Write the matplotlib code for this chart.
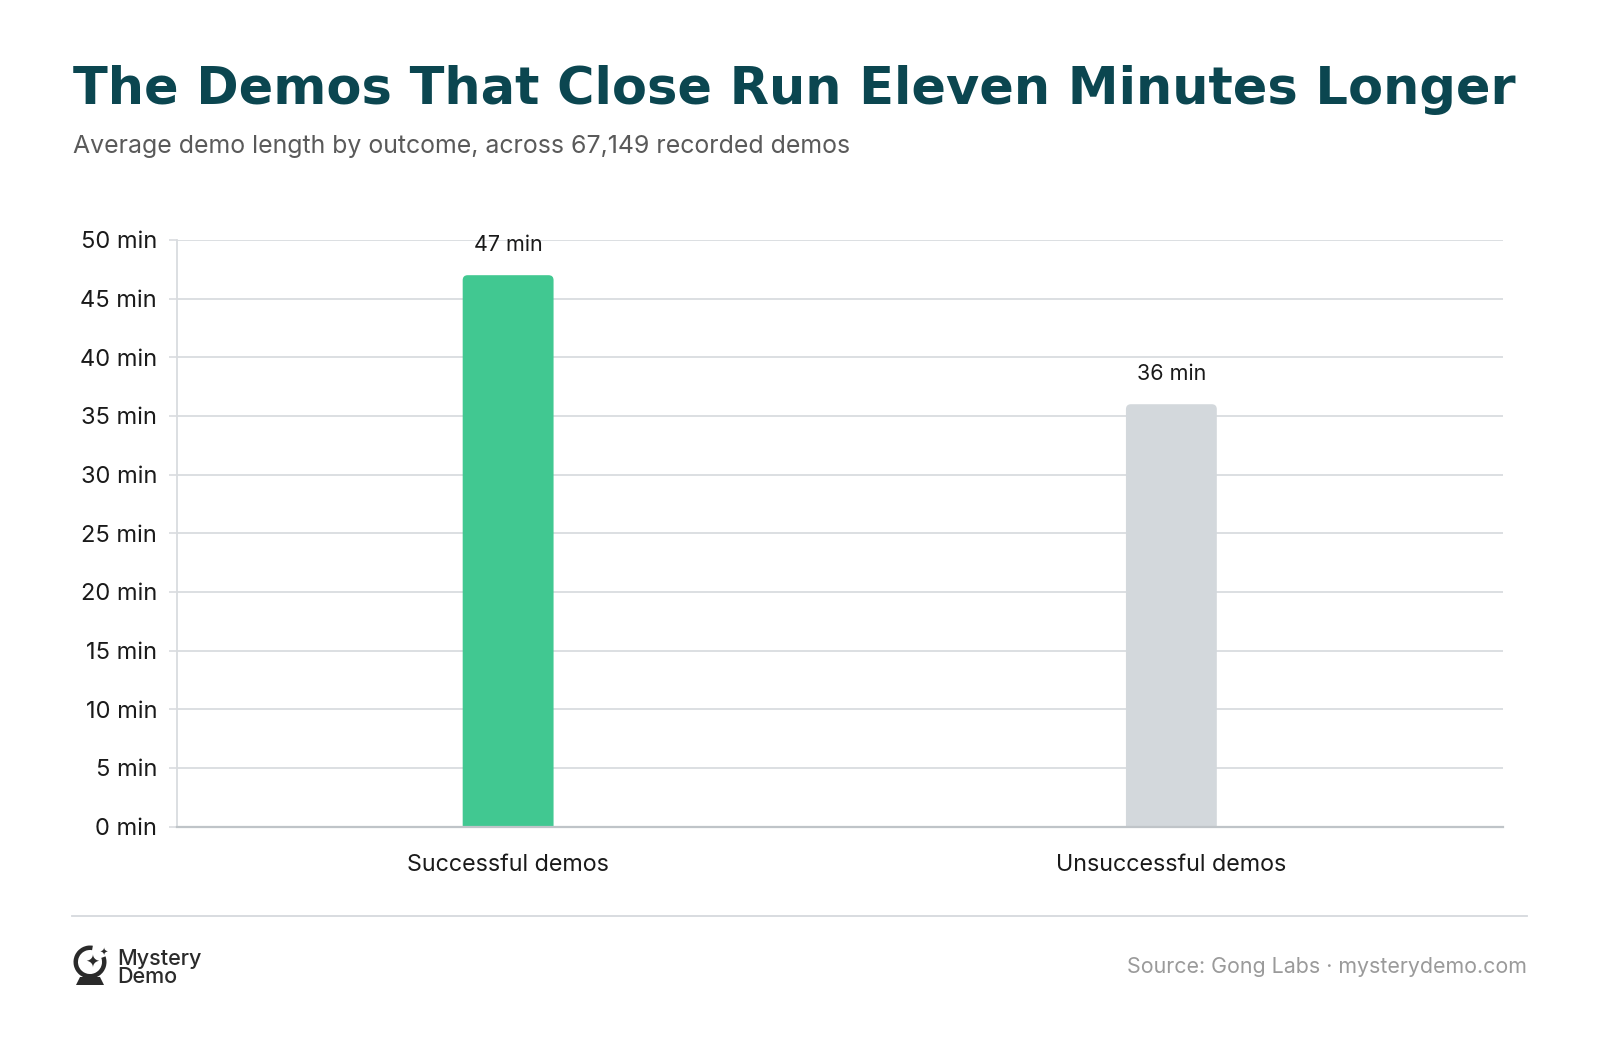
import matplotlib
matplotlib.use("Agg")
import matplotlib.pyplot as plt
from matplotlib.patches import FancyBboxPatch, Wedge, Polygon
from matplotlib.lines import Line2D

categories = ["Successful demos", "Unsuccessful demos"]
values = [47, 36]
value_labels = ["47 min", "36 min"]
yticks = [0, 5, 10, 15, 20, 25, 30, 35, 40, 45, 50]
ytick_labels = [f"{v} min" for v in yticks]
bar_colors = ["#41C891", "#D3D8DC"]

title = "The Demos That Close Run Eleven Minutes Longer"
subtitle = "Average demo length by outcome, across 67,149 recorded demos"
source = "Source: Gong Labs · mysterydemo.com"

W, H = 1600, 1042
fig = plt.figure(figsize=(W / 100, H / 100), dpi=100)
fig.patch.set_facecolor("white")

def fx(px):
    return px / W

def fy(py):
    return 1 - py / H

def pin(px, py):
    return (px / 100, (H - py) / 100)

ax = fig.add_axes([fx(176.5), fy(826.5), fx(1503) - fx(176.5), fy(240) - fy(826.5)])
ax.set_xlim(-0.5, 1.5)
ax.set_ylim(0, 50)

bars = ax.bar(range(len(categories)), values, width=0.137, color=bar_colors, zorder=2)
x_per_px = 2.0 / 1326.5
y_per_px = 50.0 / 586.5
r = 5 * x_per_px
for b, c in zip(bars, bar_colors):
    x0, w, h = b.get_x(), b.get_width(), b.get_height()
    b.set_visible(False)
    p = FancyBboxPatch((x0, -2), w, h + 2,
                       boxstyle=f"round,pad=0,rounding_size={r}",
                       mutation_aspect=y_per_px / x_per_px,
                       facecolor=c, edgecolor="none", zorder=2, clip_on=True)
    ax.add_patch(p)

for i, (v, lab) in enumerate(zip(values, value_labels)):
    ax.text(i, v + 30 * y_per_px, lab, ha="center", va="center",
            fontsize=15.5, family="Inter", color="#1a1a1a")

ax.set_yticks(yticks)
ax.set_yticklabels(ytick_labels, family="Inter", fontsize=17, color="#1a1a1a")
ax.set_xticks(range(len(categories)))
ax.set_xticklabels(categories, family="Inter", fontsize=16.8, color="#1a1a1a")
ax.tick_params(axis="y", length=6, width=1.2, color="#D9DCDF", pad=8)
ax.tick_params(axis="x", length=0, pad=20)
ax.grid(axis="y", color="#D9DCDF", linewidth=1.3, zorder=0)
ax.set_axisbelow(True)
for s in ["top", "right"]:
    ax.spines[s].set_visible(False)
ax.spines["left"].set_color("#D9DCDF")
ax.spines["left"].set_linewidth(1.3)
ax.spines["bottom"].set_color("#BFC4C8")
ax.spines["bottom"].set_linewidth(1.6)
ax.spines["bottom"].set_zorder(3)

fig.text(fx(73), fy(90), title, ha="left", va="center", fontsize=36.7,
         family="DejaVu Sans", fontweight="heavy", color="#0B4650")
fig.text(fx(73), fy(147), subtitle, ha="left", va="center", fontsize=17.9,
         family="Inter", color="#5a5a5a")

fig.add_artist(Line2D([fx(72), fx(1527)], [fy(916), fy(916)], color="#D5D9DD", linewidth=1.3))

ink = "#2a2a2a"
t = fig.dpi_scale_trans
fig.add_artist(Wedge(pin(90, 962), 0.165, 80, 380, width=0.045,
                     transform=t, facecolor=ink, edgecolor="none"))
fig.add_artist(Polygon([pin(80, 977), pin(100, 977), pin(104, 985), pin(76, 985)],
                       closed=True, transform=t, facecolor=ink, edgecolor="none"))
fig.text(fx(92), fy(963), "✦", ha="center", va="center", fontsize=12,
         family="DejaVu Sans", color=ink)
fig.text(fx(104), fy(953), "✦", ha="center", va="center", fontsize=7,
         family="DejaVu Sans", color=ink)
fig.text(fx(117), fy(959), "Mystery", ha="left", va="center", fontsize=15.5,
         family="Inter", fontweight="medium", color=ink)
fig.text(fx(117), fy(977), "Demo", ha="left", va="center", fontsize=15.5,
         family="Inter", fontweight="medium", color=ink)

fig.text(fx(1527), fy(967), source, ha="right", va="center", fontsize=15.4,
         family="Inter", color="#9a9a9a")

fig.savefig("out.png", dpi=100, facecolor="white")
